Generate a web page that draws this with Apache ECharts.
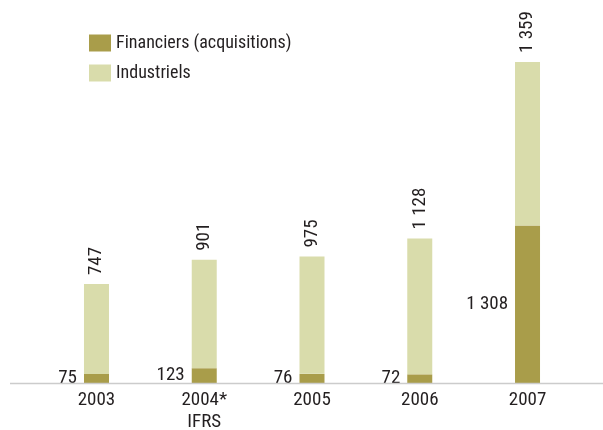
<!DOCTYPE html>
<html>
<head>
<meta charset="utf-8">
<script src="https://cdn.jsdelivr.net/npm/echarts@6/dist/echarts.min.js"></script>
<style>
  html, body { margin: 0; padding: 0; background: #fff; }
  #chart { width: 603px; height: 430px; }
</style>
</head>
<body>
<div id="chart"></div>
<script>
const categories = ['2003', '2004*\nIFRS', '2005', '2006', '2007'];
const financiers = [75, 123, 76, 72, 1308];
const industriels = [747, 901, 975, 1128, 1359];

const FONT = '"Liberation Sans Narrow", "Roboto Condensed", "Liberation Sans", sans-serif';
const TEXT = '#231f20';

// 1 359 style thousands separator
function fmt(v) {
  return String(v).replace(/\B(?=(\d{3})+(?!\d))/g, ' ');
}

const myChart = echarts.init(document.getElementById('chart'));

const option = {
  animation: false,
  textStyle: { fontFamily: FONT, color: TEXT },
  legend: {
    orient: 'vertical',
    left: 84,
    top: 29,
    itemWidth: 22,
    itemHeight: 17,
    itemGap: 12,
    icon: 'rect',
    textStyle: { fontFamily: FONT, fontSize: 18, color: TEXT },
    data: ['Financiers (acquisitions)', 'Industriels']
  },
  grid: { left: 42.6, right: 21.6, top: 22, bottom: 47, outerBoundsMode: 'none' },
  xAxis: {
    type: 'category',
    data: categories,
    axisLine: { show: false },
    axisTick: { show: false },
    axisLabel: {
      fontFamily: FONT,
      fontSize: 19,
      color: TEXT,
      margin: 6,
      lineHeight: 22
    }
  },
  yAxis: {
    type: 'value',
    min: 0,
    max: 3000,
    show: false
  },
  graphic: [{
    type: 'line',
    shape: { x1: 10, y1: 383.5, x2: 603, y2: 383.5 },
    style: { stroke: '#cccccc', lineWidth: 1.5 },
    z: 10
  }],
  series: [
    {
      name: 'Financiers (acquisitions)',
      type: 'bar',
      stack: 'total',
      barWidth: 25,
      data: financiers,
      itemStyle: { color: '#a99d4a' },
      label: {
        show: true,
        position: 'left',
        distance: 7,
        fontFamily: FONT,
        fontSize: 19,
        color: TEXT,
        formatter: p => fmt(p.value)
      }
    },
    {
      name: 'Industriels',
      type: 'bar',
      stack: 'total',
      barWidth: 25,
      data: industriels,
      itemStyle: { color: '#d9dcab' },
      label: {
        show: true,
        position: 'top',
        rotate: 90,
        align: 'left',
        verticalAlign: 'middle',
        distance: 9,
        fontFamily: FONT,
        fontSize: 19,
        color: TEXT,
        formatter: p => fmt(p.value)
      }
    }
  ]
};

myChart.setOption(option);
</script>
</body>
</html>
